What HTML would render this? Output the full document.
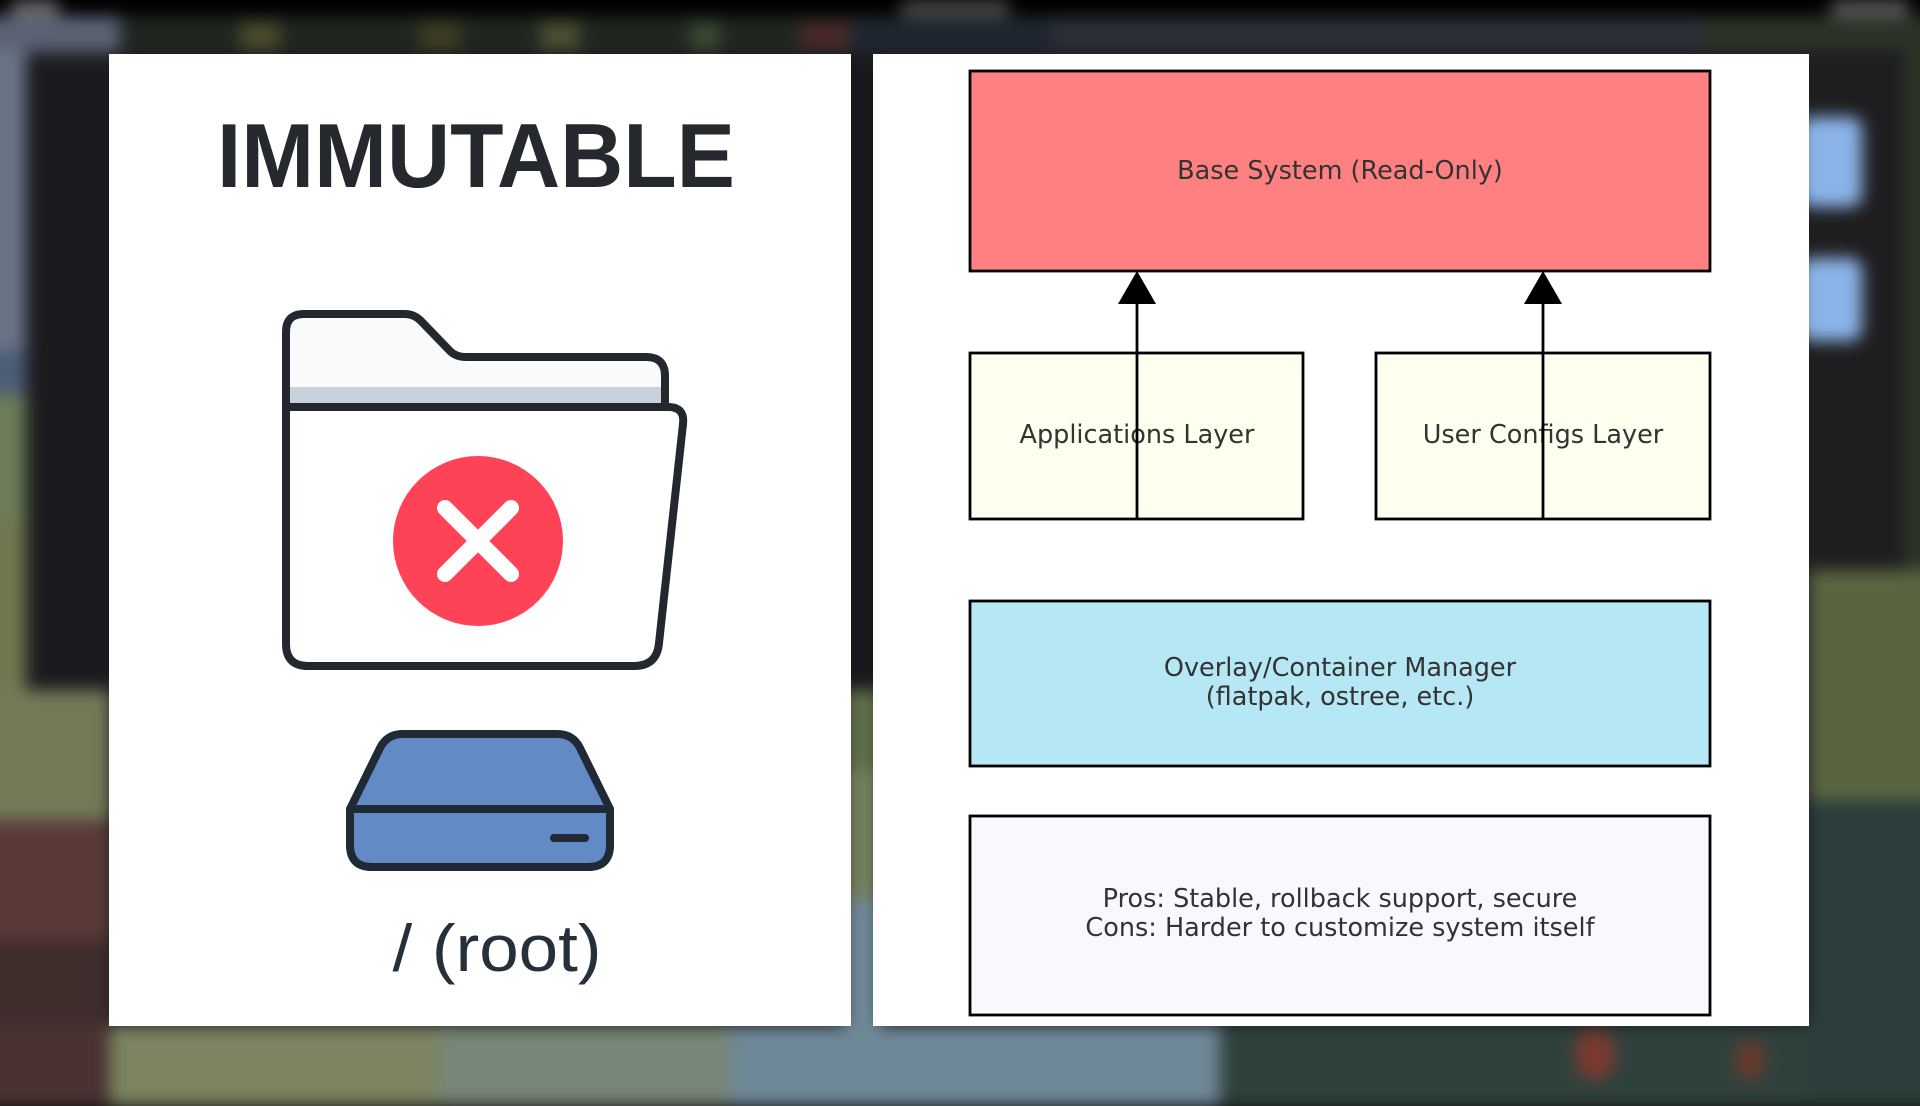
<!DOCTYPE html>
<html>
<head>
<meta charset="utf-8">
<style>
  html,body{margin:0;padding:0;width:1920px;height:1080px;overflow:hidden;background:#111;}
  #bg{position:absolute;left:0;top:0;width:1920px;height:1080px;filter:blur(8px);}
  #bg div{position:absolute;}
  svg{position:absolute;left:0;top:0;}
</style>
</head>
<body>
<div id="bg">
  <div style="left:-20px;top:-20px;width:1960px;height:1120px;background:#1d1d21;"></div>
  <div style="left:-20px;top:-20px;width:1960px;height:36px;background:#000;"></div>
  <div style="left:-20px;top:16px;width:140px;height:36px;background:#5a6274;"></div>
  <div style="left:120px;top:16px;width:730px;height:36px;background:#1f2620;"></div>
  <div style="left:240px;top:22px;width:40px;height:28px;background:#4a4a2a;"></div>
  <div style="left:420px;top:22px;width:40px;height:28px;background:#3e3e24;"></div>
  <div style="left:540px;top:22px;width:40px;height:28px;background:#4a5030;"></div>
  <div style="left:690px;top:22px;width:30px;height:28px;background:#3a4a30;"></div>
  <div style="left:800px;top:22px;width:50px;height:28px;background:#4a2828;"></div>
  <div style="left:850px;top:16px;width:200px;height:36px;background:#1e2630;"></div>
  <div style="left:1050px;top:16px;width:650px;height:36px;background:#2a2e38;"></div>
  <div style="left:1700px;top:16px;width:240px;height:36px;background:#2a3328;"></div>
  <div style="left:10px;top:0px;width:50px;height:18px;background:#666;border-radius:10px;"></div>
  <div style="left:900px;top:0px;width:110px;height:18px;background:#444;border-radius:8px;"></div>
  <div style="left:1830px;top:0px;width:80px;height:18px;background:#555;border-radius:8px;"></div>
  <div style="left:-20px;top:50px;width:46px;height:300px;background:#6b7388;"></div>
  <div style="left:-20px;top:350px;width:46px;height:45px;background:#4d5d78;"></div>
  <div style="left:-20px;top:395px;width:46px;height:125px;background:#6c7d58;"></div>
  <div style="left:-20px;top:520px;width:46px;height:170px;background:#707850;"></div>
  <div style="left:26px;top:60px;width:90px;height:630px;background:#1b1b1f;"></div>
  <div style="left:-20px;top:690px;width:130px;height:130px;background:#747a58;"></div>
  <div style="left:-20px;top:820px;width:130px;height:120px;background:#5a3a38;"></div>
  <div style="left:-20px;top:940px;width:130px;height:160px;background:#3f2d2c;"></div>
  <div style="left:845px;top:54px;width:35px;height:636px;background:#19191d;"></div>
  <div style="left:845px;top:690px;width:35px;height:80px;background:#5f6e48;"></div>
  <div style="left:845px;top:770px;width:35px;height:130px;background:#72805e;"></div>
  <div style="left:845px;top:900px;width:35px;height:130px;background:#6e8898;"></div>
  <div style="left:-20px;top:1026px;width:130px;height:80px;background:#4a3232;"></div>
  <div style="left:110px;top:1026px;width:330px;height:80px;background:#7c8462;"></div>
  <div style="left:440px;top:1026px;width:290px;height:80px;background:#778676;"></div>
  <div style="left:730px;top:1026px;width:490px;height:80px;background:#6f8898;"></div>
  <div style="left:1220px;top:1026px;width:720px;height:80px;background:#2f413d;"></div>
  <div style="left:1575px;top:1030px;width:40px;height:50px;background:#7a3a30;border-radius:20px;"></div>
  <div style="left:1735px;top:1040px;width:30px;height:40px;background:#6a3a2c;border-radius:15px;"></div>
  <div style="left:1809px;top:50px;width:130px;height:520px;background:#1e1e20;"></div>
  <div style="left:1905px;top:50px;width:30px;height:520px;background:#2c3328;"></div>
  <div style="left:1800px;top:117px;width:62px;height:90px;background:#8ab4e8;border-radius:12px;"></div>
  <div style="left:1800px;top:258px;width:62px;height:83px;background:#8ab4e8;border-radius:12px;"></div>
  <div style="left:1809px;top:570px;width:130px;height:230px;background:#5a6540;"></div>
  <div style="left:1809px;top:800px;width:130px;height:300px;background:#2c3e3b;"></div>
</div>

<svg width="1920" height="1080" viewBox="0 0 1920 1080" xmlns="http://www.w3.org/2000/svg">
  <rect x="109" y="54" width="742" height="972" fill="#ffffff"/>
  <rect x="873" y="54" width="936" height="972" fill="#ffffff"/>

  <text x="476" y="187" text-anchor="middle" font-family="Liberation Sans, Arial, sans-serif" font-weight="bold" font-size="91" fill="#25282d" textLength="518" lengthAdjust="spacingAndGlyphs">IMMUTABLE</text>

  <path d="M286 407 V332 Q286 314 304 314 H405 Q414 314 421 321 L450 351 Q456 357 466 357 H646 Q665 357 665 376 V407" fill="#f8fafc" stroke="#23282e" stroke-width="8" stroke-linejoin="round" stroke-linecap="round"/>
  <rect x="290" y="387" width="371" height="16" fill="#c9d2dc"/>
  <path d="M286 407 H668 Q685 407 683 424 L659 643 Q657 666 634 666 H308 Q286 666 286 644 Z" fill="#ffffff" stroke="#23282e" stroke-width="8" stroke-linejoin="round"/>
  <circle cx="478" cy="541" r="85" fill="#ff4357"/>
  <g stroke="#ffffff" stroke-width="16" stroke-linecap="round">
    <line x1="445" y1="508" x2="511" y2="574"/>
    <line x1="511" y1="508" x2="445" y2="574"/>
  </g>

  <g stroke="#1f2a36" stroke-width="8" stroke-linejoin="round">
    <path d="M350 809 L380 748 Q387 734 403 734 H557 Q573 734 580 748 L610 809 Z" fill="#628bc6"/>
    <path d="M350 809 H610 V845 Q610 867 588 867 H372 Q350 867 350 845 Z" fill="#628bc6"/>
  </g>
  <line x1="554" y1="838" x2="585" y2="838" stroke="#1f2a36" stroke-width="8" stroke-linecap="round"/>

  <text x="497" y="971" text-anchor="middle" font-family="Liberation Sans, Arial, sans-serif" font-size="66" fill="#25303a" textLength="209" lengthAdjust="spacingAndGlyphs">/ (root)</text>

  <g stroke="#000" stroke-width="2.8">
    <rect x="970" y="71" width="740" height="200" fill="#ff8080"/>
    <rect x="970" y="353" width="333" height="166" fill="#fffff0"/>
    <rect x="1376" y="353" width="334" height="166" fill="#fffff0"/>
    <rect x="970" y="601" width="740" height="165" fill="#b5e7f5"/>
    <rect x="970" y="816" width="740" height="199" fill="#f8f8ff"/>
  </g>

  <g font-family="DejaVu Sans, Liberation Sans, sans-serif" font-size="25.5" fill="#333" text-anchor="middle">
    <text x="1340" y="179">Base System (Read-Only)</text>
    <text x="1137" y="443">Applications Layer</text>
    <text x="1543" y="443">User Configs Layer</text>
    <text x="1340" y="676">Overlay/Container Manager</text>
    <text x="1340" y="705">(flatpak, ostree, etc.)</text>
    <text x="1340" y="907">Pros: Stable, rollback support, secure</text>
    <text x="1340" y="936">Cons: Harder to customize system itself</text>
  </g>

  <g stroke="#000" stroke-width="2.8">
    <line x1="1137" y1="519" x2="1137" y2="300"/>
    <line x1="1543" y1="519" x2="1543" y2="300"/>
  </g>
  <polygon points="1137,271 1118,304 1156,304" fill="#000"/>
  <polygon points="1543,271 1524,304 1562,304" fill="#000"/>
</svg>
</body>
</html>
